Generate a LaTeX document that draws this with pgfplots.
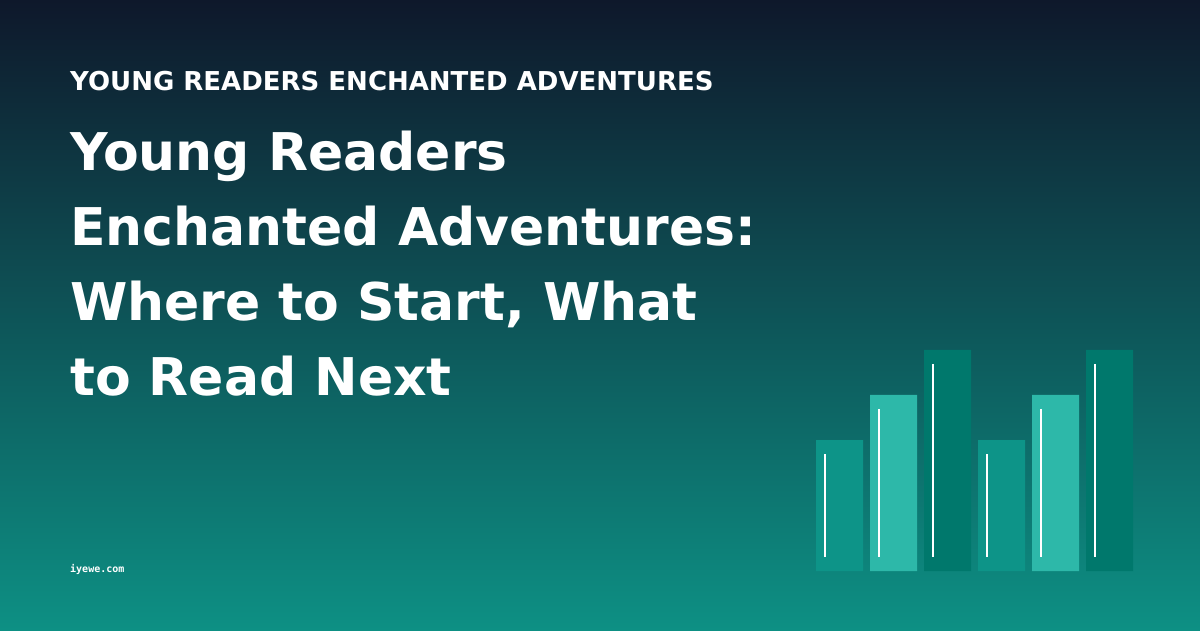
\documentclass[border=0pt]{standalone}
\usepackage{fontspec}
\usepackage{pgfplots}
\pgfplotsset{compat=1.18}
\setmainfont{DejaVu Sans}
\newfontfamily\monofont{DejaVu Sans Mono}

\definecolor{bgtop}{HTML}{0E182B}
\definecolor{bgbot}{HTML}{0D9084}
\definecolor{barA}{HTML}{0D9488}
\definecolor{barB}{HTML}{2DB8A9}
\definecolor{barC}{HTML}{00786C}

\begin{document}
\begin{tikzpicture}
\begin{axis}[
    scale only axis,
    width=1200pt, height=630pt,
    xmin=0, xmax=1200,
    ymin=-59, ymax=571,
    hide axis,
    clip=false,
]
% background
\fill[top color=bgtop, bottom color=bgbot] (axis cs:0,-59) rectangle (axis cs:1200,571);

% bars: one series per colour
\addplot[ybar, bar width=47, bar shift=0pt, fill=barA, draw=none]
    coordinates {(839.5,131) (1001.5,131)};
\addplot[ybar, bar width=47, bar shift=0pt, fill=barB, draw=none]
    coordinates {(893.5,176) (1055.5,176)};
\addplot[ybar, bar width=47, bar shift=0pt, fill=barC, draw=none]
    coordinates {(947.5,221) (1109.5,221)};

% thin white markers inside bars
\addplot[white, line width=2pt, mark=none] coordinates {(825,117) (825,14)};
\addplot[white, line width=2pt, mark=none] coordinates {(879,162) (879,14)};
\addplot[white, line width=2pt, mark=none] coordinates {(933,207) (933,14)};
\addplot[white, line width=2pt, mark=none] coordinates {(987,117) (987,14)};
\addplot[white, line width=2pt, mark=none] coordinates {(1041,162) (1041,14)};
\addplot[white, line width=2pt, mark=none] coordinates {(1095,207) (1095,14)};

% texts
\tikzset{txt/.style={anchor=base west, text=white, inner sep=0pt}}
\node[txt, font=\fontsize{26}{30}\selectfont\bfseries]
    at (axis cs:70,480) {YOUNG READERS ENCHANTED ADVENTURES};
\node[txt, font=\fontsize{52}{60}\selectfont\bfseries]
    at (axis cs:70,400) {Young Readers};
\node[txt, font=\fontsize{52}{60}\selectfont\bfseries]
    at (axis cs:70,325) {Enchanted Adventures:};
\node[txt, font=\fontsize{52}{60}\selectfont\bfseries]
    at (axis cs:70,250) {Where to Start, What};
\node[txt, font=\fontsize{52}{60}\selectfont\bfseries]
    at (axis cs:70,175) {to Read Next};
\node[txt, font=\fontsize{10}{12}\selectfont\monofont\bfseries]
    at (axis cs:70,-1) {iyewe.com};
\end{axis}
\end{tikzpicture}
\end{document}
